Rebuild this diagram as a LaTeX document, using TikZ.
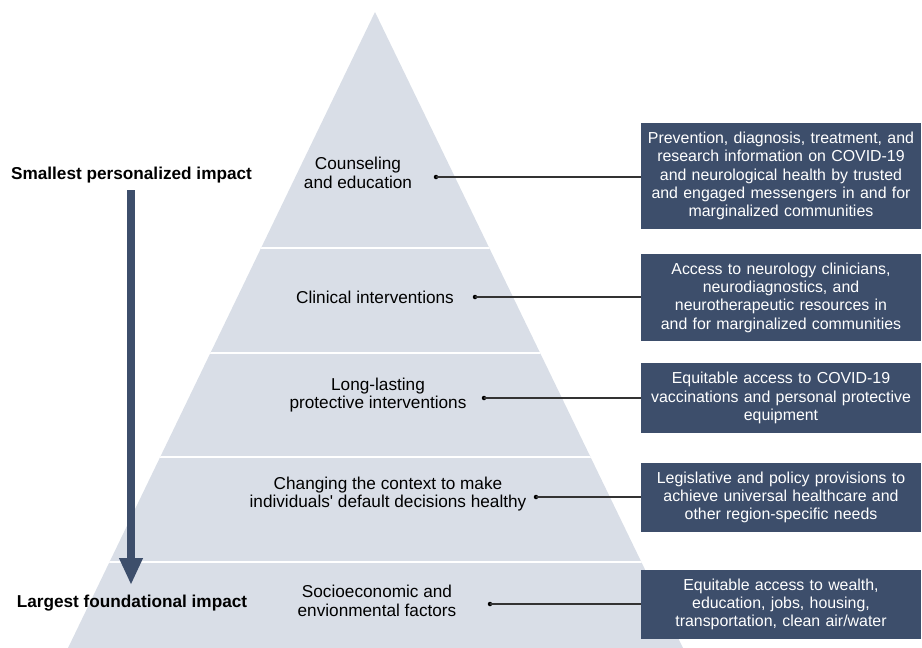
\documentclass[tikz,border=0pt]{standalone}
\usepackage{fontspec}
\setmainfont{Liberation Sans}
\usetikzlibrary{arrows.meta}

\definecolor{pyrfill}{HTML}{D9DEE7}
\definecolor{navy}{HTML}{3D4E6B}
\definecolor{linkgray}{HTML}{333333}

\begin{document}
\begin{tikzpicture}[x=1pt,y=-1pt,
  level/.style={font=\fontsize{17.2}{18.5}\selectfont, align=center, text=black, inner sep=0pt},
  infobox/.style={fill=navy, text=white, align=center, inner sep=0pt,
    font=\fontsize{15.9}{18.3}\selectfont, minimum width=280pt, text width=272pt},
  sidelabel/.style={font=\bfseries\fontsize{17.2}{19}\selectfont, inner sep=0pt},
  link/.style={draw=linkgray, line width=1.2pt},
  dot/.style={circle, fill=black, inner sep=0pt, minimum size=4.5pt},
  divider/.style={draw=white, line width=2pt}]

\useasboundingbox (0,0) rectangle (922,648);

% pyramid body
\fill[pyrfill] (375,12) -- (683,648) -- (68,648) -- cycle;
\begin{scope}
  \clip (375,12) -- (683,648) -- (68,648) -- cycle;
  \foreach \yy in {248,353,457,562} \draw[divider] (0,\yy) -- (922,\yy);
\end{scope}

% level labels
\node[level] (l1) at (358,173) {Counseling\\and education};
\node[level] (l2) at (375,297) {Clinical interventions};
\node[level] (l3) at (378,395) {Long-lasting\\protective interventions};
\node[level] (l4) at (388,494) {Changing the context to make\\individuals\textquotesingle{} default decisions healthy};
\node[level] (l5) at (377,601) {Socioeconomic and\\envionmental factors};

% description boxes
\node[infobox, minimum height=106pt] (b1) at (781,176)
  {Prevention, diagnosis, treatment, and\\research information on COVID-19\\and neurological health by trusted\\and engaged messengers in and for\\marginalized communities};
\node[infobox, minimum height=87pt] (b2) at (781,297.5)
  {Access to neurology clinicians,\\neurodiagnostics, and\\neurotherapeutic resources in\\and for marginalized communities};
\node[infobox, minimum height=70pt] (b3) at (781,398)
  {Equitable access to COVID-19\\vaccinations and personal protective\\equipment};
\node[infobox, minimum height=69pt] (b4) at (781,497.5)
  {Legislative and policy provisions to\\achieve universal healthcare and\\other region-specific needs};
\node[infobox, minimum height=69pt] (b5) at (781,604.5)
  {Equitable access to wealth,\\education, jobs, housing,\\transportation, clean air/water};

% connectors from each level to its box
\node[dot] (d1) at (436,177) {};
\node[dot] (d2) at (475,297) {};
\node[dot] (d3) at (484,398) {};
\node[dot] (d4) at (536,497) {};
\node[dot] (d5) at (490,604) {};
\foreach \i in {1,...,5} \draw[link] (d\i.center) -- (d\i -| b\i.west);

% impact scale on the left
\node[sidelabel] (top) at (131.5,175) {Smallest personalized impact};
\node[sidelabel] (bottom) at (132,603) {Largest foundational impact};
\coordinate (arrS) at (131,190);
\coordinate (arrE) at (131,585);
\draw[navy, line width=8.3pt, -{Triangle[width=22pt,length=27pt]}] (arrS) -- (arrE);

\end{tikzpicture}
\end{document}
